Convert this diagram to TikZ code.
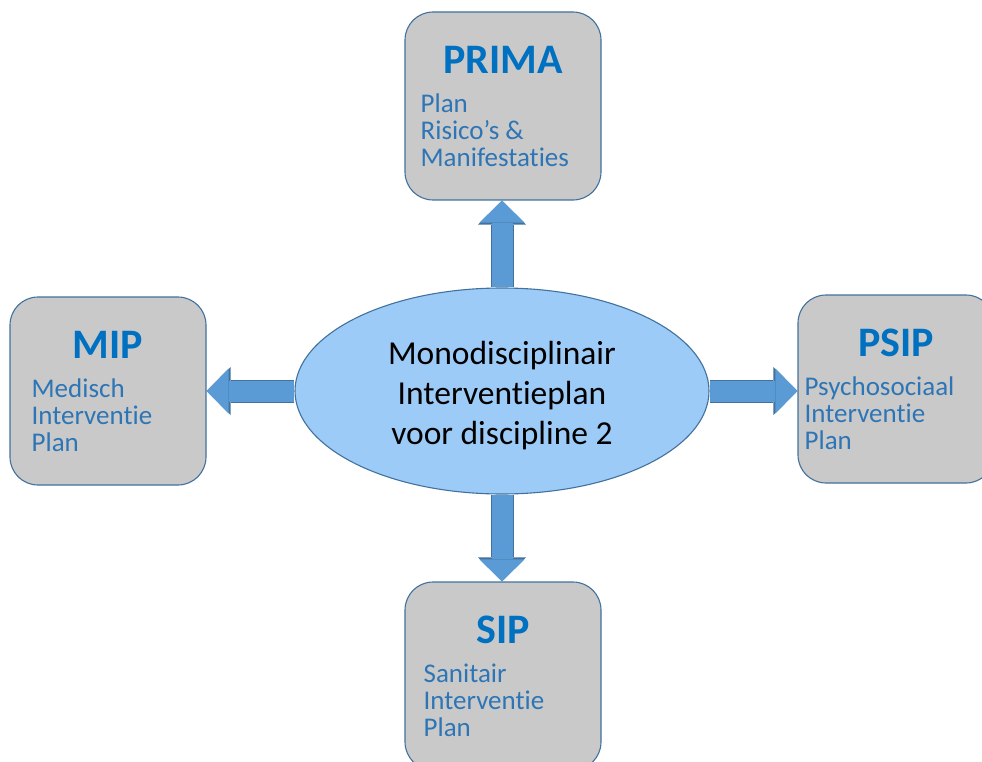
\documentclass[tikz,border=0pt]{standalone}
\usepackage{fontspec}
\setmainfont{Carlito}[Ligatures=NoCommon]
\usetikzlibrary{calc}
\usetikzlibrary{shapes.geometric}
\usetikzlibrary{arrows.meta}
\definecolor{boxgray}{HTML}{C9C9C9}
\definecolor{edgeblue}{HTML}{41719C}
\definecolor{ellblue}{HTML}{9DCBF7}
\definecolor{arrowblue}{HTML}{5B9BD5}
\definecolor{titleblue}{HTML}{0070C0}
\definecolor{bodyblue}{HTML}{2E75B6}

\begin{document}
\begin{tikzpicture}[x=1pt, y=-1pt,
        plan/.style={draw=edgeblue, fill=boxgray, rounded corners=28pt,
            minimum width=196pt, minimum height=188pt, inner sep=0pt, line width=1.1pt},
        ttl/.style={text=titleblue, font=\fontsize{42}{46}\selectfont\bfseries,
            inner sep=0pt, anchor=base},
        bdy/.style={text=bodyblue, font=\fontsize{27}{27}\selectfont,
            align=left, inner sep=0pt, anchor=base west},
        mono/.style={ellipse, draw=edgeblue, fill=ellblue, line width=1.1pt,
            minimum width=414pt, minimum height=206pt, inner sep=0pt, align=center,
            font=\fontsize{33.5}{40}\selectfont},
        fat/.style={arrowblue, line width=21pt,
            -{Triangle[width=45pt, length=22pt, line width=0pt]},
            preaction={draw, edgeblue, line width=23pt,
                -{Triangle[width=48pt, length=24pt, line width=0pt]}}}
    ]

    \clip (0,0) rectangle (982,762);

    % plan boxes
    \foreach \nm/\cx/\cy/\tt/\bd/\dx in {
        prima/503/106/PRIMA/{Plan\\Risico’s \&\\Manifestaties}/16,
        mip/108/391/MIP/{Medisch\\Interventie\\Plan}/22,
        psip/896/389/PSIP/{Psychosociaal\\Interventie\\Plan}/7,
        sip/503/676/SIP/{Sanitair\\Interventie\\Plan}/19}{
        \node[plan] (\nm) at (\cx,\cy) {};
        \node[ttl] (\nm-t) at ($(\nm.north)+(0,62)$) {\tt};
        \node[bdy] (\nm-b) at ($(\nm.north west)+(\dx,155)$) {\bd};
    }

    \node[mono] (ell) at (502,391) {\rule{0pt}{32pt}Monodisciplinair\\Interventieplan\\voor discipline 2};

    \draw[fat] (ell.north) -- (ell.north |- prima.south);
    \draw[fat] (ell.south) -- (ell.south |- sip.north);
    \draw[fat] (ell.west) -- (ell.west -| mip.east);
    \draw[fat] (ell.east) -- (ell.east -| psip.west);
\end{tikzpicture}
\end{document}
